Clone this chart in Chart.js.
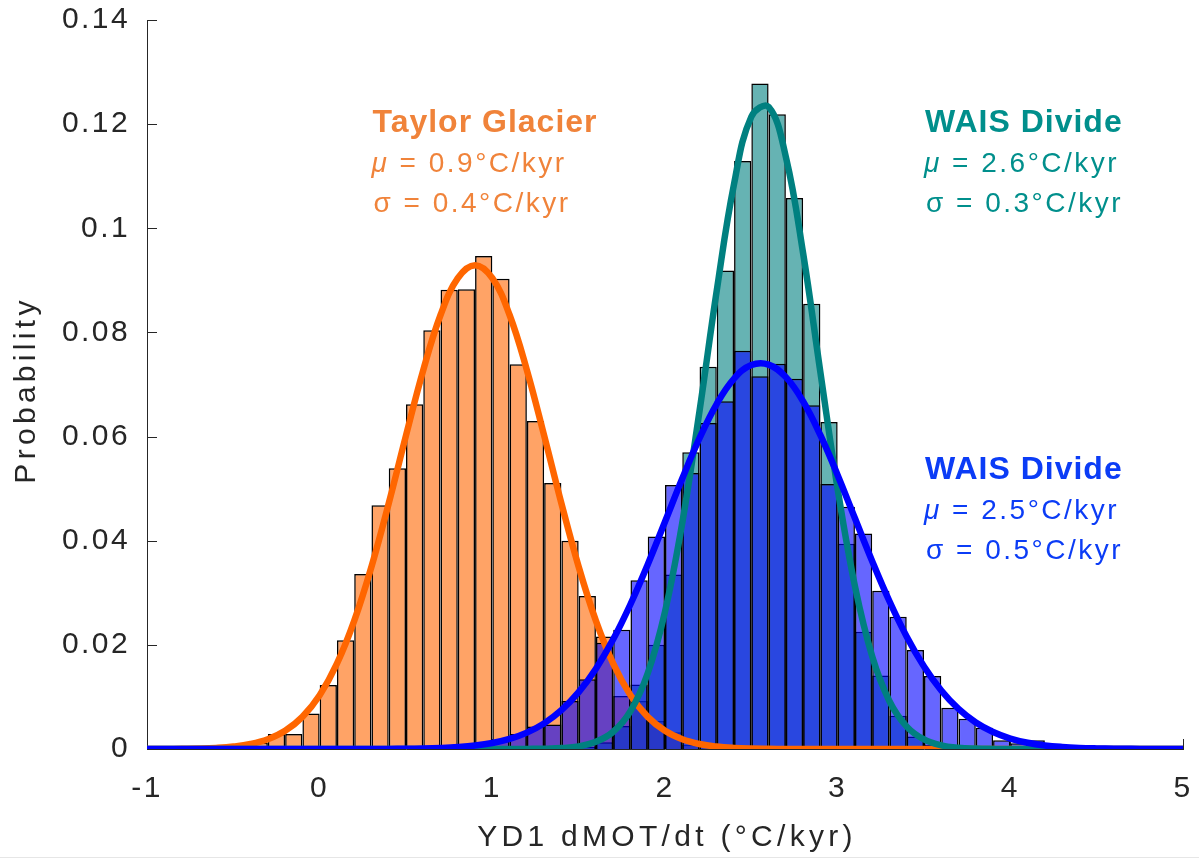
<!DOCTYPE html>
<html>
<head>
<meta charset="utf-8">
<script src="https://cdn.jsdelivr.net/npm/chart.js@4.4.1/dist/chart.umd.min.js"></script>
<style>
  html, body { margin: 0; padding: 0; background: #fff; }
  #wrap { position: relative; width: 1199px; height: 861px; }
  #rule { position: absolute; left: 0; top: 857px; width: 1199px; height: 1px; background: #e6e6e6; }
</style>
</head>
<body>
<div id="wrap">
  <canvas id="chart" width="1199" height="861"></canvas>
  <div id="rule"></div>
</div>
<script>
// histogram bins are 0.1 wide, each series starts at its own left edge
const binWidth = 0.1
const taylorStart = -0.5
const taylorHist = [0.0004, 0.0012, 0.0029, 0.0029, 0.0068, 0.0123, 0.0209, 0.0336, 0.0468, 0.0539,
  0.0662, 0.0804, 0.0882, 0.0883, 0.0947, 0.0903, 0.0739, 0.0630, 0.0511, 0.0400,
  0.0294, 0.0216, 0.0102, 0.0092, 0.0054, 0.0032, 0.0008, 0.0003]
const waisNarrowStart = 1.5
const waisNarrowHist = [0.0004, 0.0013, 0.0044, 0.0124, 0.0200, 0.0335, 0.0570, 0.0734, 0.0919, 0.1129,
  0.1278, 0.1219, 0.1058, 0.0855, 0.0628, 0.0394, 0.0225, 0.0141, 0.0064, 0.0024,
  0.0008, 0.0003]
const waisWideStart = 0.6
const waisWideHist = [0.0001, 0.0002, 0.0004, 0.0008, 0.0016, 0.0029, 0.0043, 0.0047, 0.0092, 0.0134,
  0.0204, 0.0229, 0.0324, 0.0408, 0.0507, 0.0530, 0.0626, 0.0668, 0.0765, 0.0716,
  0.0740, 0.0711, 0.0660, 0.0509, 0.0465, 0.0414, 0.0304, 0.0254, 0.0190, 0.0140,
  0.0079, 0.0058, 0.0041, 0.0017, 0.0011, 0.0017, 0.0003]

// fitted curves, every 0.1
const curveX = [-1.0, -0.9, -0.8, -0.7, -0.6, -0.5, -0.4, -0.3, -0.2, -0.1,
  0.0, 0.1, 0.2, 0.3, 0.4, 0.5, 0.6, 0.7, 0.8, 0.9,
  1.0, 1.1, 1.2, 1.3, 1.4, 1.5, 1.6, 1.7, 1.8, 1.9,
  2.0, 2.1, 2.2, 2.3, 2.4, 2.5, 2.6, 2.7, 2.8, 2.9,
  3.0, 3.1, 3.2, 3.3, 3.4, 3.5, 3.6, 3.7, 3.8, 3.9,
  4.0, 4.1, 4.2, 4.3, 4.4, 4.5, 4.6, 4.7, 4.8, 4.9, 5.0]
const taylorFit = [0.00001, 0.00001, 0.00004, 0.00009, 0.00021, 0.00046, 0.00095, 0.00187, 0.00349, 0.00617,
  0.01033, 0.01638, 0.02460, 0.03500, 0.04717, 0.06020, 0.07278, 0.08335, 0.09041, 0.09290,
  0.09041, 0.08335, 0.07278, 0.06020, 0.04717, 0.03500, 0.02460, 0.01638, 0.01033, 0.00617,
  0.00349, 0.00187, 0.00095, 0.00046, 0.00021, 0.00009, 0.00004, 0.00001, 0, 0,
  0, 0, 0, 0, 0, 0, 0, 0, 0, 0,
  0, 0, 0, 0, 0, 0, 0, 0, 0, 0, 0]
const waisNarrowFit = [0, 0, 0, 0, 0, 0, 0, 0, 0, 0,
  0, 0, 0, 0, 0, 0, 0, 0, 0, 0,
  0, 0, 0.00002, 0.00005, 0.00017, 0.00051, 0.00137, 0.00331, 0.00728, 0.01455,
  0.02637, 0.04343, 0.06491, 0.08809, 0.10853, 0.12142, 0.12331, 0.11370, 0.09518, 0.07233,
  0.04991, 0.03127, 0.01779, 0.00918, 0.00431, 0.00183, 0.00071, 0.00025, 0.00008, 0.00002,
  0.00001, 0, 0, 0, 0, 0, 0, 0, 0, 0, 0]
const waisWideFit = [0, 0, 0, 0, 0, 0, 0, 0, 0, 0,
  0, 0, 0.00001, 0.00001, 0.00002, 0.00005, 0.00010, 0.00020, 0.00037, 0.00066,
  0.00115, 0.00193, 0.00314, 0.00492, 0.00745, 0.01091, 0.01542, 0.02106, 0.02780, 0.03543,
  0.04365, 0.05193, 0.05969, 0.06630, 0.07113, 0.07373, 0.07383, 0.07142, 0.06676, 0.06027,
  0.05258, 0.04431, 0.03607, 0.02837, 0.02156, 0.01583, 0.01123, 0.00769, 0.00509, 0.00326,
  0.00201, 0.00120, 0.00069, 0.00039, 0.00021, 0.00011, 0.00005, 0.00003, 0.00001, 0, 0]

const xTicks = [-1, 0, 1, 2, 3, 4, 5]
const xTickLabels = ['-1', '0', '1', '2', '3', '4', '5']
const yTicks = [0, 0.02, 0.04, 0.06, 0.08, 0.1, 0.12, 0.14]
const yTickLabels = ['0', '0.02', '0.04', '0.06', '0.08', '0.1', '0.12', '0.14']

const xTitle = 'YD1 dMOT/dt (°C/kyr)'
const yTitle = 'Probability'
const noteTitles = ['Taylor Glacier', 'WAIS Divide', 'WAIS Divide']
const noteMeans = ['0.9', '2.6', '2.5']
const noteSigmas = ['0.4', '0.3', '0.5']

const font = "'Liberation Sans', Arial, Helvetica, sans-serif"
const ink = '#262626'
const orange = '#ff6600'
const teal = '#008080'
const blue = '#0000ff'

// where the text blocks sit, in data units (left edge, first baseline)
const noteAt = [
  { x: 0.3, y: 0.1185, color: '#f0833a' },
  { x: 3.5, y: 0.1185, color: '#008f8c' },
  { x: 3.5, y: 0.0519, color: '#0b3cf6' },
]

function bars(start, values) {
  return values.map((v, i) => ({ x: +(start + binWidth * (i + 0.5)).toFixed(3), y: v }))
}

function curve(values) {
  return values.map((v, i) => ({ x: curveX[i], y: v }))
}

const matlabLook = {
  id: 'matlabLook',
  beforeLayout(chart) { chart.ctx.letterSpacing = '2.4px' },
  beforeDraw(chart) { chart.ctx.letterSpacing = '2.4px' },
  beforeDatasetsDraw(chart) {
    // MATLAB style ticks pointing into the axes
    const { ctx, chartArea: a, scales: { x, y } } = chart
    ctx.save()
    ctx.strokeStyle = ink
    ctx.lineWidth = 1
    ctx.beginPath()
    yTicks.forEach(v => {
      const py = Math.round(y.getPixelForValue(v)) + 0.5
      ctx.moveTo(a.left, py)
      ctx.lineTo(a.left + 10, py)
    })
    xTicks.forEach(v => {
      const px = Math.round(x.getPixelForValue(v)) + 0.5
      ctx.moveTo(px, a.bottom)
      ctx.lineTo(px, a.bottom - 10)
    })
    ctx.stroke()
    ctx.restore()
  },
  afterDraw(chart) {
    const { ctx, chartArea: a, scales: { x, y } } = chart
    ctx.save()
    ctx.textAlign = 'left'
    ctx.textBaseline = 'alphabetic'
    noteAt.forEach((n, i) => {
      const px = x.getPixelForValue(n.x)
      const py = y.getPixelForValue(n.y)
      ctx.fillStyle = n.color
      ctx.letterSpacing = '1px'
      ctx.font = `bold 32px ${font}`
      ctx.fillText(noteTitles[i], px + 1, py)
      ctx.letterSpacing = '2.5px'
      ctx.font = `italic 28px ${font}`
      ctx.fillText('μ', px, py + 40)
      const w = ctx.measureText('μ').width
      ctx.font = `28px ${font}`
      ctx.fillText(' = ' + noteMeans[i] + '°C/kyr', px + w, py + 40)
      ctx.fillText('σ = ' + noteSigmas[i] + '°C/kyr', px + 2, py + 80.5)
    })

    ctx.fillStyle = ink
    ctx.letterSpacing = '4.3px'
    ctx.font = `30px ${font}`
    ctx.textAlign = 'center'
    ctx.fillText(xTitle, (a.left + a.right) / 2 + 2, a.bottom + 97)
    ctx.translate(a.left - 112, 390)
    ctx.rotate(-Math.PI / 2)
    ctx.fillText(yTitle, 0, 0)
    ctx.restore()
  }
}

const tickFont = { family: font, size: 30 }

new Chart(document.getElementById('chart'), {
  type: 'bar',
  data: {
    datasets: [
      { type: 'line', label: 'WAIS Divide fit, σ 0.5', data: curve(waisWideFit), borderColor: blue, borderWidth: 6.5, pointRadius: 0, tension: 0.4, order: 0 },
      { type: 'line', label: 'WAIS Divide fit, σ 0.3', data: curve(waisNarrowFit), borderColor: teal, borderWidth: 6.5, pointRadius: 0, tension: 0.4, order: 1 },
      { type: 'line', label: 'Taylor Glacier fit', data: curve(taylorFit), borderColor: orange, borderWidth: 6.5, pointRadius: 0, tension: 0.4, order: 2 },
      { label: 'WAIS Divide, σ 0.5', data: bars(waisWideStart, waisWideHist), backgroundColor: 'rgba(0, 0, 255, 0.6)', order: 3 },
      { label: 'WAIS Divide, σ 0.3', data: bars(waisNarrowStart, waisNarrowHist), backgroundColor: 'rgba(0, 128, 128, 0.6)', order: 4 },
      { label: 'Taylor Glacier', data: bars(taylorStart, taylorHist), backgroundColor: 'rgba(255, 102, 0, 0.6)', order: 5 },
    ]
  },
  options: {
    responsive: false,
    animation: false,
    devicePixelRatio: 1,
    layout: { padding: { top: 20, right: 16, left: 0, bottom: 0 } },
    datasets: {
      bar: { grouped: false, barPercentage: 1, categoryPercentage: 1, borderColor: '#000000', borderWidth: 1.5, inflateAmount: 0 }
    },
    plugins: {
      legend: { display: false },
      tooltip: { enabled: false }
    },
    scales: {
      x: {
        type: 'linear',
        min: -1,
        max: 5,
        offset: false,
        afterFit(s) { s.height = 112; s.paddingLeft = 0; s.paddingRight = 0 },
        afterBuildTicks(s) { s.ticks = xTicks.map(v => ({ value: v })) },
        grid: { display: false, drawTicks: false },
        border: { display: true, color: ink, width: 1 },
        ticks: {
          autoSkip: false, maxRotation: 0, padding: 22, color: ink, font: tickFont,
          callback: (v, i) => xTickLabels[i]
        }
      },
      y: {
        type: 'linear',
        min: 0,
        max: 0.14,
        afterFit(s) { s.width = 147; s.paddingTop = 0; s.paddingBottom = 0 },
        afterBuildTicks(s) { s.ticks = yTicks.map(v => ({ value: v })) },
        grid: { display: false, drawTicks: false },
        border: { display: true, color: ink, width: 1 },
        ticks: {
          autoSkip: false, padding: 17, color: ink, font: tickFont,
          callback: (v, i) => yTickLabels[i]
        }
      }
    }
  },
  plugins: [matlabLook]
})
</script>
</body>
</html>
